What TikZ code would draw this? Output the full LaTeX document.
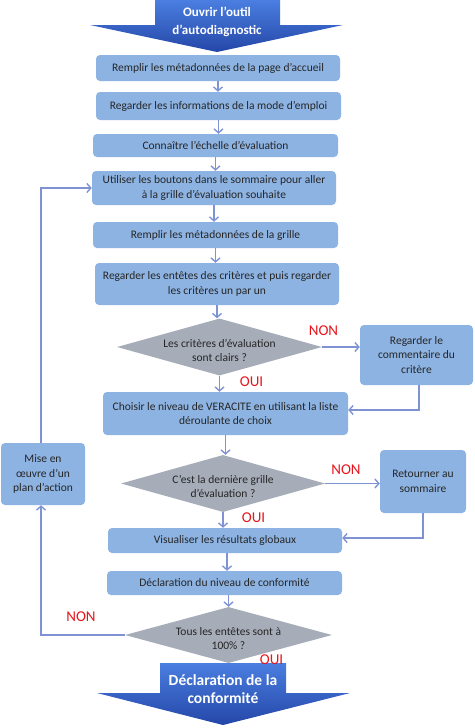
\documentclass[tikz,border=0pt]{standalone}
\usepackage{fontspec}
\setmainfont{Carlito}
\usetikzlibrary{shapes.geometric,arrows.meta}
\definecolor{boxblue}{HTML}{8DB3E2}
\definecolor{linkblue}{HTML}{7F93D4}
\definecolor{diagray}{HTML}{A6ACB8}
\definecolor{labred}{HTML}{E8141C}
\definecolor{arrtop}{HTML}{4A7EE0}
\definecolor{arrbot}{HTML}{2447A8}
\begin{document}
\begin{tikzpicture}[x=1pt,y=-1pt,
  stepbox/.style={fill=boxblue, rounded corners=4pt, inner sep=0pt, align=center,
    text=black!85, font=\fontsize{11.5}{14.5}\selectfont},
  dia/.style={diamond, fill=diagray, inner sep=0pt, aspect=3.6},
  diatext/.style={align=center, text=black!85, inner sep=0pt, font=\fontsize{11.5}{14}\selectfont},
  link/.style={draw=linkblue, line width=1.4pt,
    -{Straight Barb[length=4pt,width=9pt,line width=1.4pt]}},
  lab/.style={text=labred, inner sep=0pt, font=\fontsize{15}{16}\selectfont},
  bigtext/.style={text=white, align=center, inner sep=0pt}
]
\useasboundingbox (0,0) rectangle (474,728);

% top big arrow
\shade[top color=arrtop, bottom color=arrbot]
  (155,0) -- (280,0) -- (280,25) -- (343,25) -- (217,52) -- (90,25) -- (155,25) -- cycle;
\node[bigtext, font=\bfseries\fontsize{13}{18}\selectfont] (open) at (217,22) {Ouvrir l’outil\\d’autodiagnostic};

% bottom big arrow
\shade[top color=arrtop, bottom color=arrbot]
  (160,663) -- (286,663) -- (286,693) -- (350,693) -- (223,725) -- (97,693) -- (160,693) -- cycle;
\node[bigtext, font=\bfseries\fontsize{15.5}{18}\selectfont] (decl) at (223,689) {Déclaration de la\\conformité};

% boxes
\node[stepbox, minimum width=244pt, minimum height=26pt] (b1) at (218,68) {Remplir les métadonnées de la page d’accueil};
\node[stepbox, minimum width=245pt, minimum height=28pt] (b2) at (218.5,106) {Regarder les informations de la mode d’emploi};
\node[stepbox, minimum width=245pt, minimum height=23pt] (b3) at (215.5,145.5) {Connaître l’échelle d’évaluation};
\node[stepbox, minimum width=244pt, minimum height=34pt] (b4) at (214,188) {Utiliser les boutons dans le sommaire pour aller\\à la grille d’évaluation souhaite};
\node[stepbox, minimum width=245pt, minimum height=26pt] (b5) at (215.5,235) {Remplir les métadonnées de la grille};
\node[stepbox, minimum width=244pt, minimum height=42pt] (b6) at (217,284) {Regarder les entêtes des critères et puis regarder\\les critères un par un};

\node[dia, minimum width=205pt, minimum height=57pt] (d1) at (219.5,347) {};
\node[diatext] (d1t) at (219.5,350) {Les critères d’évaluation\\sont clairs ?};

\node[stepbox, minimum width=113pt, minimum height=60pt] (rc) at (416.5,355) {Regarder le\\commentaire du\\critère};

\node[stepbox, minimum width=245pt, minimum height=43pt] (b7) at (225.5,413.5) {Choisir le niveau de VERACITE en utilisant la liste\\déroulante de choix};

\node[dia, minimum width=204pt, minimum height=57pt] (d2) at (223,483.5) {};
\node[diatext] (d2t) at (223,486.5) {C’est la dernière grille\\d’évaluation ?};

\node[stepbox, minimum width=86pt, minimum height=63pt] (rt) at (423,481.5) {Retourner au\\sommaire};

\node[stepbox, minimum width=84pt, minimum height=62pt] (mise) at (43,474) {Mise en\\œuvre d’un\\plan d’action};

\node[stepbox, minimum width=234pt, minimum height=25pt] (b8) at (225,540.5) {Visualiser les résultats globaux};
\node[stepbox, minimum width=235pt, minimum height=24pt] (b9) at (224.5,583) {Déclaration du niveau de conformité};

\node[dia, minimum width=207pt, minimum height=56pt] (d3) at (228.5,635) {};
\node[diatext] (d3t) at (228.5,639) {Tous les entêtes sont à\\100\% ?};

% connectors
\draw[link] (b1.south) -- (b1.south |- b2.north);
\draw[link] (b2.south) -- (b2.south |- b3.north);
\draw[link] (b3.south) -- (b3.south |- b4.north);
\draw[link] (b4.south) -- (b4.south |- b5.north);
\draw[link] (b5.south) -- (b5.south |- b6.north);
\draw[link] (b6.south) -- (b6.south |- d1.north);
\draw[link] (d1.south) -- (d1.south |- b7.north);
\draw[link] (d1.east) -- (d1.east -| rc.west);
\draw[link] ([xshift=2.5pt]rc.south) |- ([yshift=3.5pt]b7.east);
\draw[link] (b7.south) -- (b7.south |- d2.north);
\draw[link] (d2.east) -- (d2.east -| rt.west);
\draw[link] (d2.south) -- (d2.south |- b8.north);
\draw[link] (rt.south) |- ([yshift=2.5pt]b8.east);
\draw[link] ([xshift=2pt]b8.south) -- ([xshift=2pt]b8.south |- b9.north);
\draw[link] ([xshift=4pt]b9.south) -- ([xshift=4pt]b9.south |- d3.north);
\draw[link] (d3.west) -| ([xshift=-2pt]mise.south);
\draw[link] ([xshift=-2pt]mise.north) |- (b4.west);

% labels
\node[lab] (non1) at (323.5,331) {NON};
\node[lab] (oui1) at (251.5,382) {OUI};
\node[lab] (non2) at (346,470) {NON};
\node[lab] (oui2) at (253.5,517.5) {OUI};
\node[lab] (non3) at (81,617) {NON};
\node[lab] (oui3) at (271.5,660) {OUI};
\end{tikzpicture}
\end{document}
